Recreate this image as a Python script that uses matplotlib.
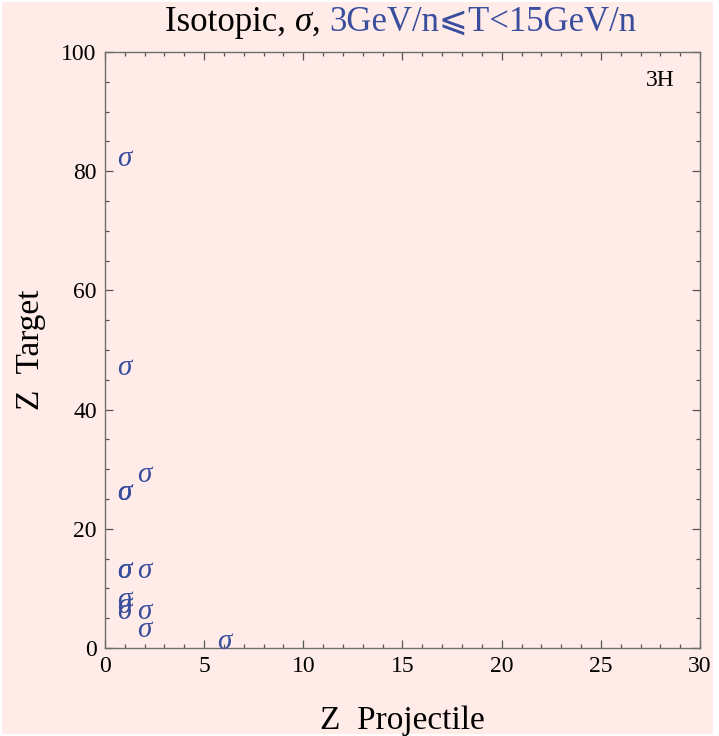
import matplotlib
matplotlib.use("Agg")
import matplotlib.pyplot as plt
from matplotlib.patches import Rectangle
from matplotlib.ticker import MultipleLocator

# data: (Z projectile, Z target) of measurements
z_proj = [1, 1, 1, 1, 1, 2, 1, 1, 1, 2, 1, 1, 1, 2, 2, 6]
z_targ = [82, 47, 26, 26, 26, 29, 13, 13, 13, 13, 8, 7, 6, 6, 3, 1]
panel_label = "3H"
x_ticks = [0, 5, 10, 15, 20, 25, 30]
y_ticks = [0, 20, 40, 60, 80, 100]

pink = "#ffebe8"
blue = "#3a4e9e"
serif = ["Liberation Serif", "DejaVu Serif", "DejaVu Sans"]

fig = plt.figure(figsize=(7.19, 7.36), dpi=100, facecolor="white")
fig.patches.append(Rectangle((0.003, 0.003), 0.989, 0.994, transform=fig.transFigure,
                             facecolor=pink, edgecolor="none", zorder=-10))
ax = fig.add_axes([0.146, 0.1196, 0.8276, 0.8097])
ax.set_facecolor(pink)
ax.set_xlim(0, 30)
ax.set_ylim(0, 100)
ax.set_xticks(x_ticks)
ax.set_yticks(y_ticks)
ax.xaxis.set_minor_locator(MultipleLocator(1))
ax.yaxis.set_minor_locator(MultipleLocator(5))
ax.tick_params(which="both", direction="in", top=True, right=True, color="#555555",
               labelsize=17, width=0.9)
ax.tick_params(which="major", length=6, pad=6)
ax.tick_params(which="minor", length=3)
for lbl in ax.get_xticklabels() + ax.get_yticklabels():
    lbl.set_family(serif)
for s in ax.spines.values():
    s.set_color("#6e6e6e")
    s.set_linewidth(1.0)

for x, y in zip(z_proj, z_targ):
    ax.text(x, y, "σ", color=blue, fontsize=21, fontstyle="italic", family=serif,
            ha="center", va="center")

ax.text(0.933, 0.953, panel_label, transform=ax.transAxes, fontsize=17,
        family=serif, ha="center", va="center")

ax.set_xlabel("Z  Projectile", fontsize=24, family=serif, labelpad=20)
ax.set_ylabel("Z  Target", fontsize=24, family=serif, labelpad=11)

ty = 0.970
fs = 25
t1 = fig.text(0.2295, ty, "Isotopic, ", fontsize=fs, family=serif, va="center", ha="left")
fig.canvas.draw()
r = fig.canvas.get_renderer()
bb = t1.get_window_extent(r)
t2 = fig.text(bb.x1 / fig.bbox.width, ty, "σ", fontsize=fs, family=serif,
              fontstyle="italic", va="center", ha="left")
bb = t2.get_window_extent(r)
t3 = fig.text(bb.x1 / fig.bbox.width, ty, ", ", fontsize=fs, family=serif,
              va="center", ha="left")
bb = t3.get_window_extent(r)
fig.text(bb.x1 / fig.bbox.width, ty, "3GeV/n⩽T<15GeV/n", fontsize=fs, family=serif,
         color=blue, va="center", ha="left")

fig.savefig("out.png", dpi=100, facecolor=fig.get_facecolor())
